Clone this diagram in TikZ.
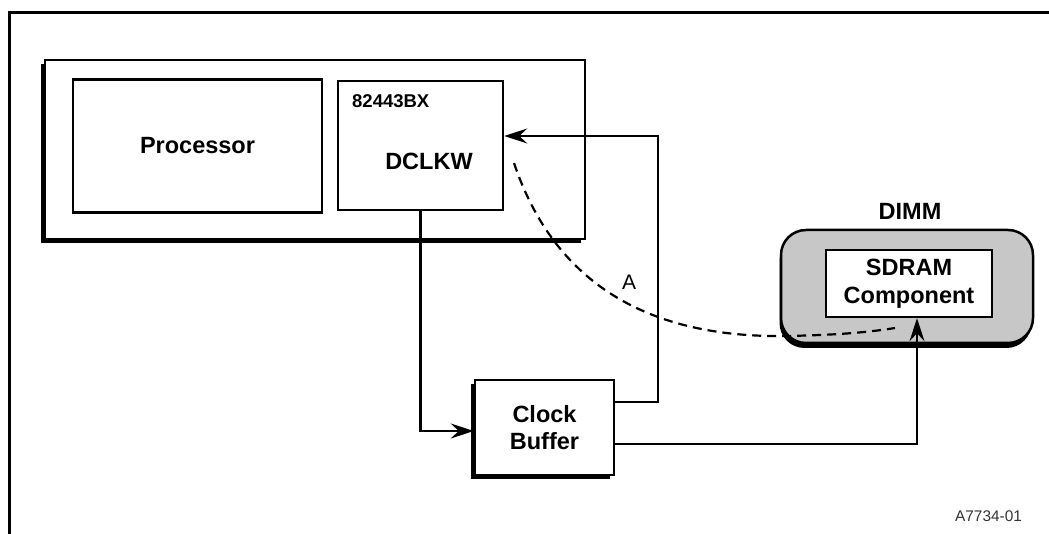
\documentclass[tikz,border=0pt]{standalone}
\usepackage{fontspec}
\setmainfont{Liberation Sans}
\usetikzlibrary{arrows.meta,shadows}
\begin{document}
\begin{tikzpicture}[x=1pt,y=-1pt,
  boldtext/.style={font=\bfseries\fontsize{23.5}{27.5}\selectfont},
  box/.style={draw,line width=2.5pt,fill=white,inner sep=0pt,boldtext,align=center},
  shadowed/.style={drop shadow={shadow xshift=-4pt,shadow yshift=-4pt,opacity=1,fill=black}},
  conn/.style={line width=2.2pt},
  arr/.style={-{Stealth[length=23pt,width=15pt,inset=8pt]}},
]
\useasboundingbox (0,0) rectangle (1049,534);
% frame
\draw[line width=3pt] (1049,13) -- (9.5,13) -- (9.5,534);
% chipset box
\node[box,shadowed,minimum width=540pt,minimum height=179pt] (mch) at (315,149.5) {};
\node[box,minimum width=249pt,minimum height=133pt] (proc) at (197.5,146) {Processor};
\node[box,minimum width=165pt,minimum height=129pt] (dclkw) at (420.5,145.5) {};
\node[font=\bfseries\fontsize{18.5}{22}\selectfont,anchor=base west,inner sep=0pt] (bx) at (352,108) {82443BX};
\node[boldtext,anchor=base,inner sep=0pt] (dl) at (429,170) {DCLKW};
% clock buffer
\node[box,shadowed,minimum width=139pt,minimum height=95pt] (clk) at (544.5,427.5) {Clock\\Buffer};
% DIMM
\node[draw,line width=2.5pt,fill=black!22,rounded corners=25pt,minimum width=252pt,minimum height=113pt,
      drop shadow={shadow xshift=-1.5pt,shadow yshift=-5pt,opacity=1,fill=black}] (dimm) at (907,286.5) {};
\node[boldtext,anchor=base,inner sep=0pt] (dimmlbl) at (910,220) {DIMM};
\node[box,minimum width=166pt,minimum height=67pt] (sdram) at (909,283.5) {SDRAM\\Component};
% connectors
\coordinate (fbR) at (658,136);
\draw[conn,arr] ([yshift=25.5pt]clk.east) -| (fbR) -- (fbR -| dclkw.east);
\draw[conn,arr] (dclkw.south) |- ([yshift=-3.5pt]clk.west);
\draw[conn,arr] ([yshift=-16.5pt]clk.east) -| ([xshift=8pt]sdram.south);
% dashed path A
\coordinate (ds) at (514,163);
\coordinate (de) at (895,328);
\draw[conn,dash pattern=on 9pt off 6pt] (ds) .. controls (555,285) and (650,338) .. (786,336) .. controls (840,335) and (870,332) .. (de);
\node[font=\fontsize{21}{24}\selectfont,anchor=base,inner sep=0pt] (alabel) at (629,290) {A};
\node[font=\fontsize{15.4}{18}\selectfont,text=black!80,anchor=base,inner sep=0pt] (fig) at (988.5,521.7) {A7734-01};
\end{tikzpicture}
\end{document}
